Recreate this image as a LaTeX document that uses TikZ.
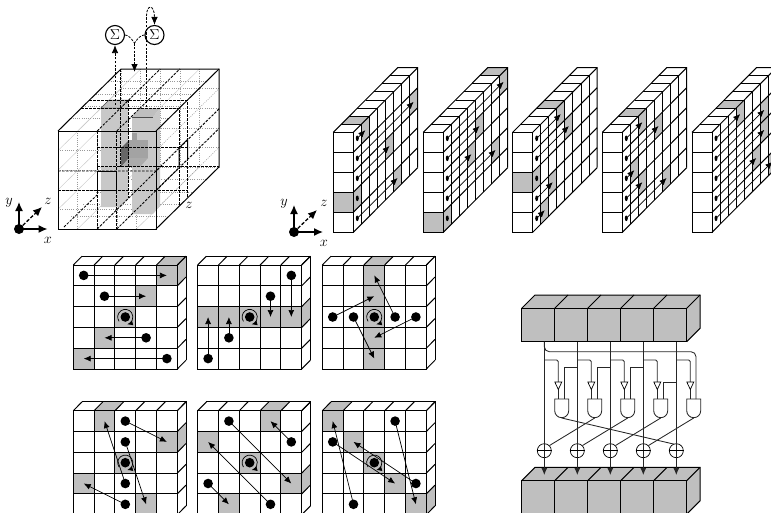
\documentclass[tikz,border=0pt]{standalone}
\usetikzlibrary{arrows.meta}
\definecolor{cellgray}{HTML}{BFBFBF}
\definecolor{colgray}{HTML}{C8C8C8}
\tikzset{
  wire/.style={line width=0.85pt,black!85},
  grid line/.style={line width=1pt,black},
  move arrow/.style={line width=0.7pt,-{Latex[length=7pt,width=6pt]}},
  axis arrow/.style={line width=1.3pt,-{Latex[length=9pt,width=8pt]}},
  axis dash/.style={line width=1.3pt,dash pattern=on 3.5pt off 1.8pt,-{Latex[length=9pt,width=8pt]}},
  flow/.style={line width=0.8pt,dash pattern=on 2.5pt off 1.3pt},
  flow arrow/.style={flow,-{Latex[length=8pt,width=6.5pt]}},
  slice/.style={line width=0.85pt,dash pattern=on 2.5pt off 1.5pt},
  faint/.style={line width=0.4pt,black!22},
  faint dot/.style={line width=0.5pt,black!40,dash pattern=on 1pt off 1.2pt},
  bigdot/.style={circle,fill=black,inner sep=0pt,minimum size=9.6pt},
  axis label/.style={inner sep=0pt,font=\fontsize{14}{14}\selectfont},
  sumnode/.style={circle,draw,line width=1.1pt,fill=white,inner sep=0pt,minimum size=19pt,font=\fontsize{15}{15}\selectfont},
  xornode/.style={circle,draw,line width=0.7pt,fill=white,inner sep=0pt,minimum size=14pt},
}
% permutation panel: x0,y0,gray cells c/r,top col,side row,arrows c/r/c/r
\newcommand\permpanel[6]{%
\begin{scope}[shift={(#1,#2)}]
  \foreach \cc/\rr in {#3}{\fill[cellgray] (\cc*20.8,\rr*20.8) rectangle ++(20.8,20.8);}
  \ifnum#4>-1 \fill[cellgray] (#4*20.8,0) -- ++(8.7,-8.8) -- ++(20.8,0) -- ++(-8.7,8.8) -- cycle;\fi
  \ifnum#5>-1 \fill[cellgray] (104,#5*20.8) -- ++(8.7,-8.8) -- ++(0,20.8) -- ++(-8.7,8.8) -- cycle;\fi
  \draw[grid line] (0,0) rectangle (104,104);
  \foreach \k in {1,...,4}{
    \draw[grid line] (\k*20.8,0) -- (\k*20.8,104);
    \draw[grid line] (0,\k*20.8) -- (104,\k*20.8);
  }
  \foreach \k in {0,...,5}{
    \draw[grid line] (\k*20.8,0) -- ++(8.7,-8.8);
    \draw[grid line] (104,\k*20.8) -- ++(8.7,-8.8);
  }
  \draw[grid line] (8.7,-8.8) -- (112.7,-8.8) -- (112.7,95.2);
  \foreach \ca/\ra/\cb/\rb in {#6}{
    \node[bigdot] (d\ca\ra) at (\ca*20.8+10.4,\ra*20.8+10.4) {};
    \draw[move arrow] (d\ca\ra.center) -- (\cb*20.8+10.4,\rb*20.8+10.4);
  }
  \node[bigdot] (centre) at (52,52) {};
  \draw[line width=0.7pt,-{Latex[length=5.5pt,width=5pt]}] (centre.center) ++(215:7.6pt) arc[start angle=215,end angle=-75,radius=7.6pt];
\end{scope}}
% z panel: x0, depths of rows 0..4, list of inner depth lines
\newcommand\zpanel[7]{%
\begin{scope}[shift={(#1,132.3)}]
  \foreach \rr/\dd in {0/#2,1/#3,2/#4,3/#5,4/#6}{
    \ifnum\dd=0 \fill[cellgray] (0,\rr*20) rectangle ++(20,20);\fi
    \fill[cellgray] (20+\dd*8.05,\rr*20-\dd*8.07) -- ++(8.05,-8.07) -- ++(0,20) -- ++(-8.05,8.07) -- cycle;
    \ifnum\rr=0 \fill[cellgray] (\dd*8.05,-\dd*8.07) -- ++(8.05,-8.07) -- ++(20,0) -- ++(-8.05,8.07) -- cycle;\fi
  }
  \draw[grid line] (0,0) rectangle (20,100);
  \foreach \k in {1,...,4}{\draw[grid line] (0,\k*20) -- (20,\k*20);}
  \foreach \k in {0,...,5}{\draw[grid line] (20,\k*20) -- ++(64.4,-64.6);}
  \draw[grid line] (0,0) -- (64.4,-64.6) -- (84.4,-64.6) -- (84.4,35.4);
  \foreach \dd in {#7}{
    \draw[grid line] (\dd*8.05,-\dd*8.07) -- ++(20,0) -- ++(0,100);
  }
  \foreach \rr/\dd in {0/#2,1/#3,2/#4,3/#5,4/#6}{
    \fill (24,\rr*20+6) ellipse (1.5 and 2.8);
    \ifnum\dd>0
      \draw[line width=0.7pt,-{Latex[length=7pt,width=6pt]}] (24,\rr*20+6) -- (24+\dd*8.05,\rr*20+6-\dd*8.07);
    \fi
  }
\end{scope}}
\begin{document}
\begin{tikzpicture}[x=1pt,y=-1pt]
\useasboundingbox (0,0) rectangle (771,512);
% ---- cube
\foreach \k in {1,...,4}{
  \draw[faint] (58+\k*19.6,229) -- ++(63,-62);
  \draw[faint] (58,131+\k*19.6) -- ++(63,-62);
  \draw[faint] (58+\k*19.6,131) -- ++(63,-62);
  \draw[faint dot] (121+\k*19.6,69) -- ++(0,98);
  \draw[faint dot] (121,69+\k*19.6) -- ++(98,0);
  \draw[faint dot] (58+\k*19.6,131) -- ++(0,98);
  \draw[faint dot] (58,131+\k*19.6) -- ++(98,0);
  \draw[faint dot] (156,131+\k*19.6) -- ++(63,-62);
  \draw[faint dot] (156+\k*12.6,229-\k*12.4) -- ++(-98,0);
  \draw[faint dot] (58+\k*12.6,131-\k*12.4) -- ++(98,0);
}
\draw[faint dot] (121,69) -- (121,167) -- (219,167);
\fill[colgray] (101,108) -- (121,108) -- (128,100) -- (128,199) -- (121,207) -- (101,207) -- cycle;
\fill[cellgray] (101,108) -- (109,100) -- (128,100) -- (121,108) -- cycle;
\fill[colgray] (132,117) -- (153,117) -- (160,108) -- (160,206) -- (153,214) -- (132,214) -- cycle;
\fill[cellgray] (132,117) -- (140,108) -- (160,108) -- (153,117) -- cycle;
\draw[line width=0.5pt,black!70] (101,108) -- (109,100) -- (128,100) -- (121,108) -- cycle;
\draw[line width=0.9pt,black!70] (132,117) -- (153,117);
\fill[black!60] (121,148) -- (129,140) -- (129,158) -- (121,167) -- cycle;
\fill[black!36] (129,140) rectangle (148,158);
\fill[black!33] (129,158) -- (148,158) -- (140,167) -- (121,167) -- cycle;
\fill[black!38] (132,133) rectangle (137,140);
% dashed slices
\foreach \xa in {97.2,116.8}{
  \draw[slice] (\xa,131) -- (\xa,229);
  \draw[slice] (\xa,131) -- ++(63,-62);
  \draw[slice] (\xa,229) -- ++(63,-62);
}
\draw[slice] (64,227) -- (97,195);
\draw[slice] (58,171) -- (156,171) -- ++(63,-62);
\draw[slice] (58,190.6) -- (187,190.6);
\draw[slice] (156,190.6) -- ++(63,-62);
\draw[slice] (81,108) -- (179,108) -- (179,206);
\draw[slice] (89,100) -- (187,100) -- (187,198);
\draw[slice] (97,147) -- (187,147);
\draw[slice] (97,166.7) -- (219,166.7);
\draw[slice] (120.5,69) -- (120.5,167);
\draw[slice] (128,100) -- (128,198);
% outlines
\draw[line width=1pt] (58,131) rectangle (156,229);
\draw[line width=1pt] (58,131) -- (121,69) -- (219,69) -- (219,167) -- (156,229);
\draw[line width=1pt] (156,131) -- (219,69);
\draw[line width=1pt] (97.2,171) rectangle (116.8,190.6);
\draw[line width=1pt] (179,167) -- (179,148) -- (187.5,139.5) -- (187.5,158);
\node[axis label] (zc) at (189,205) {$z$};
% ---- sums
\node[sumnode] (s1) at (115,35) {$\Sigma$};
\node[sumnode] (s2) at (154.5,35) {$\Sigma$};
\coordinate (c1) at (115,105);
\coordinate (c2) at (134.5,43);
\coordinate (c3) at (134.5,72);
\coordinate (c4) at (146.5,107);
\coordinate (c5) at (146.5,16);
\draw[flow arrow] (c1) -- (s1);
\draw[flow] (s1.east) .. controls (128,35) and (131,38) .. (c2);
\draw[flow] (s2.west) .. controls (141,35) and (138,38) .. (c2);
\draw[flow arrow] (c2) -- (c3);
\draw[flow] (c4) -- (c5);
\draw[flow arrow] (c5) .. controls (146.5,4) and (154.5,4) .. (s2.north);
% ---- axes
\node[bigdot,minimum size=10pt] (o1) at (19,229) {};
\coordinate (o1x) at (47.5,229); \coordinate (o1y) at (19,202); \coordinate (o1z) at (42,207);
\draw[axis arrow] (o1.center) -- (o1x);
\draw[axis arrow] (o1.center) -- (o1y);
\draw[axis dash] (o1.center) -- (o1z);
\node[axis label] (ly1) at (9,203) {$y$};
\node[axis label] (lz1) at (48,201) {$z$};
\node[axis label] (lx1) at (48,240) {$x$};
\node[bigdot,minimum size=10pt] (o2) at (294,232) {};
\coordinate (o2x) at (323,232); \coordinate (o2y) at (294,205); \coordinate (o2z) at (317,210);
\draw[axis arrow] (o2.center) -- (o2x);
\draw[axis arrow] (o2.center) -- (o2y);
\draw[axis dash] (o2.center) -- (o2z);
\node[axis label] (ly2) at (284,204) {$y$};
\node[axis label] (lz2) at (324,203) {$z$};
\node[axis label] (lx2) at (324,243) {$x$};
% ---- z panels
\zpanel{333.3}{1}{7}{4}{0}{5}{1,2,3,4,5,6,7}
\zpanel{423.3}{7}{4}{3}{6}{0}{1,2,3,4,5,6,7}
\zpanel{512.7}{3}{4}{0}{2}{1}{1,2,3,4,5,6,7}
\zpanel{602.3}{2}{4}{1}{2}{5}{1,2,3,4,5,6,7}
\zpanel{692}{3}{6}{6}{5}{7}{1,2,3,4,5,6,7}
% ---- permutation panels
\permpanel{73.3}{265}{4/0,3/1,2/2,1/3,0/4}{4}{0}{0/0/4/0,1/1/3/1,3/3/1/3,4/4/0/4}
\permpanel{197.7}{265}{0/2,1/2,2/2,3/2,4/2}{-1}{2}{0/4/0/2,1/3/1/2,3/1/3/2,4/0/4/2}
\permpanel{322.3}{265}{2/0,2/1,2/2,2/3,2/4}{2}{-1}{0/2/2/1,1/2/2/4,3/2/2/0,4/2/2/3}
\permpanel{73.3}{410.7}{1/0,4/1,2/2,0/3,3/4}{1}{1}{2/0/4/1,2/1/3/4,2/3/1/0,2/4/0/3}
\permpanel{197.7}{410.7}{3/0,0/1,2/2,4/3,1/4}{3}{3}{1/0/4/3,0/3/1/4,4/1/3/0,3/4/0/1}
\permpanel{322.3}{410.7}{0/0,1/1,2/2,3/3,4/4}{0}{4}{0/1/3/3,1/4/0/0,3/0/4/4,4/3/1/1}
% ---- theta blocks
\foreach \yy in {308.3,480.7}{
  \fill[cellgray] (521.7,\yy) -- ++(13.3,-13.3) -- ++(165,0) -- ++(0,33.4) -- ++(-13.3,13.3) -- ++(-165,0) -- cycle;
  \draw[grid line] (521.7,\yy) rectangle ++(165,33.4);
  \draw[grid line] (521.7,\yy) -- ++(13.3,-13.3) -- ++(165,0) -- ++(0,33.4) -- ++(-13.3,13.3);
  \foreach \k in {1,...,5}{
    \draw[grid line] (521.7+\k*33,\yy) -- ++(13.3,-13.3);
    \draw[grid line] (521.7+\k*33,\yy) -- ++(0,33.4);
  }
}
\foreach \i in {0,...,4}{
  \pgfmathsetmacro\ax{544.3+33*\i}
  \pgfmathsetmacro\gx{561.7+33*\i}
  \coordinate (t\i) at (\ax,341.7);
  \coordinate (b\i) at (\ax,475);
  \node[xornode] (x\i) at (\ax,450.7) {};
  \draw[wire,-{Latex[length=7pt,width=6pt]}] (t\i) -- (b\i);
  \draw[line width=0.7pt] (x\i.west) -- (x\i.east);
  \coordinate (in\i) at (\gx-3.4,399);
  \coordinate (jn\i) at (\gx+3,399);
  \coordinate (br\i) at (\ax,360);
  \coordinate (tri\i) at (\gx-3.4,382);
  \draw[wire,rounded corners=1.5pt] (br\i) -| (tri\i);
  \draw[wire] (tri\i) -- (in\i);
  \draw[wire,fill=white] (\gx-7,399) -- (\gx+7,399) -- (\gx+7,410.7) arc[start angle=0,end angle=-180,radius=7pt] -- cycle;
  \draw[line width=0.7pt,fill=white] (\gx-6.9,382) -- (\gx+0.1,382) -- (\gx-3.4,389.5) -- cycle;
  \coordinate (g\i) at (\gx,418);
}
\foreach \i/\j/\yy in {0/1/367.7,1/2/367.7,2/3/367.7,3/4/382.7}{
  \pgfmathsetmacro\sx{544.3+33*\j}
  \coordinate (sr\i) at (\sx,\yy);
  \draw[wire] (sr\i) -| (jn\i);
}
\draw[wire,rounded corners=5pt] (t0) -- (544.3,351.7) -- (696,351.7) -- (696,399);
\draw[wire] (x4) ++(-2,-6.5) -- (g0);
\draw[wire] (g1) -- (x0.north east);
\draw[wire] (g2) -- (x1.north east);
\draw[wire] (g3) -- (x2.north east);
\draw[wire] (g4) -- (x3.north east);
\end{tikzpicture}
\end{document}
